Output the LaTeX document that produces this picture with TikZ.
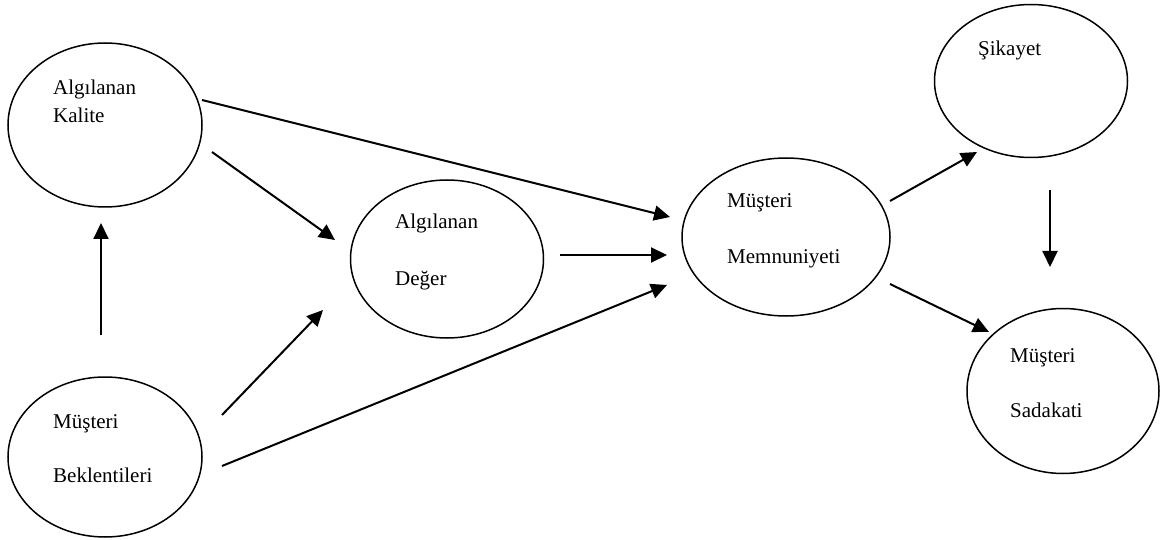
\documentclass[tikz,border=0pt]{standalone}
\usepackage{fontspec}
\setmainfont{Liberation Serif}
\usetikzlibrary{shapes.geometric,arrows.meta}
\begin{document}
\begin{tikzpicture}[x=1pt,y=-1pt,
  oval/.style={draw,ellipse,line width=1.5pt,inner sep=0pt},
  lbl/.style={anchor=base west,inner sep=0pt,font=\fontsize{21}{25}\selectfont},
  arr/.style={line width=2pt,-{Triangle[length=16pt,width=15pt]}}]
\useasboundingbox (0,0) rectangle (1170,540);
% ellipses
\node[oval,minimum width=194pt,minimum height=164pt] (kal) at (105,125) {};
\node[oval,minimum width=194pt,minimum height=160pt] (bek) at (105,457) {};
\node[oval,minimum width=193pt,minimum height=158pt] (deg) at (447,259) {};
\node[oval,minimum width=208pt,minimum height=158pt] (mem) at (786,237) {};
\node[oval,minimum width=193pt,minimum height=153pt] (sik) at (1031,81) {};
\node[oval,minimum width=192pt,minimum height=165pt] (sad) at (1063,391) {};
% labels
\node[lbl] (kal1) at (53,95) {Algılanan};
\node[lbl] (kal2) at (53,123) {Kalite};
\node[lbl] (bek1) at (53,428) {Müşteri};
\node[lbl] (bek2) at (53,482) {Beklentileri};
\node[lbl] (deg1) at (395,229) {Algılanan};
\node[lbl] (deg2) at (395,285) {Değer};
\node[lbl] (mem1) at (727,208) {Müşteri};
\node[lbl] (mem2) at (727,263) {Memnuniyeti};
\node[lbl] (sik1) at (978,56) {Şikayet};
\node[lbl] (sad1) at (1010,362) {Müşteri};
\node[lbl] (sad2) at (1010,417) {Sadakati};
% arrow end points
\coordinate (a1s) at (202,100); \coordinate (a1e) at (670,217);
\coordinate (a2s) at (212,152); \coordinate (a2e) at (335,240);
\coordinate (a3s) at (101,335); \coordinate (a3e) at (101,223);
\coordinate (a4s) at (222,415); \coordinate (a4e) at (323,310);
\coordinate (a5s) at (222,466); \coordinate (a5e) at (667,285);
\coordinate (a6s) at (560,255); \coordinate (a6e) at (667,255);
\coordinate (a7s) at (890,201); \coordinate (a7e) at (977,152);
\coordinate (a8s) at (1050,190); \coordinate (a8e) at (1050,267);
\coordinate (a9s) at (890,284); \coordinate (a9e) at (989,332);
% arrows
\draw[arr] (a1s) -- (a1e);
\draw[arr] (a2s) -- (a2e);
\draw[arr] (a3s) -- (a3e);
\draw[arr] (a4s) -- (a4e);
\draw[arr] (a5s) -- (a5e);
\draw[arr] (a6s) -- (a6e);
\draw[arr] (a7s) -- (a7e);
\draw[arr] (a8s) -- (a8e);
\draw[arr] (a9s) -- (a9e);
\end{tikzpicture}
\end{document}
